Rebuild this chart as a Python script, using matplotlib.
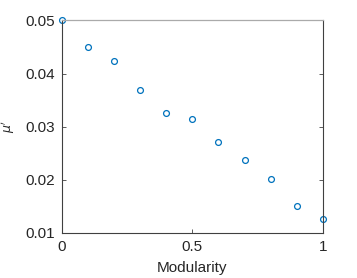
import matplotlib
matplotlib.use("Agg")
import matplotlib.pyplot as plt

modularity = [0.0, 0.1, 0.2, 0.3, 0.4, 0.5, 0.6, 0.7, 0.8, 0.9, 1.0]
mu_prime = [0.0500, 0.0450, 0.0424, 0.0370, 0.0325, 0.0315, 0.0271, 0.0237, 0.0201, 0.0150, 0.0126]

xticks = [0, 0.5, 1]
xticklabels = ["0", "0.5", "1"]
yticks = [0.01, 0.02, 0.03, 0.04, 0.05]
yticklabels = ["0.01", "0.02", "0.03", "0.04", "0.05"]

plt.rcParams['font.family'] = ['Liberation Sans', 'DejaVu Sans']

fig = plt.figure(figsize=(3.57, 2.78), dpi=100)
ax = fig.add_axes([0.1723, 0.1619, 0.7325, 0.7644])

ax.plot(modularity, mu_prime, linestyle='none', marker='o', markersize=4.2,
        markerfacecolor='none', markeredgecolor='#0072BD', markeredgewidth=0.9,
        clip_on=False)

ax.set_xlim(0, 1)
ax.set_ylim(0.01, 0.05)
ax.set_xticks(xticks)
ax.set_xticklabels(xticklabels)
ax.set_yticks(yticks)
ax.set_yticklabels(yticklabels)
ax.tick_params(direction='in', length=3, width=0.6, colors='#404040',
               labelcolor='#262626', labelsize=11, top=False, right=True,
               pad=5)
ax.tick_params(axis='y', right=True, labelright=False)

for side in ['left', 'bottom', 'right']:
    ax.spines[side].set_color('#404040')
    ax.spines[side].set_linewidth(0.8)
ax.spines['top'].set_color('#aaaaaa')
ax.spines['top'].set_linewidth(0.9)

ax.set_xlabel("Modularity", fontsize=11, color='#262626', labelpad=5)
ax.set_ylabel(r"$\mu'$", fontsize=9, color='#262626', labelpad=6)

plt.savefig("out.png", dpi=100)
